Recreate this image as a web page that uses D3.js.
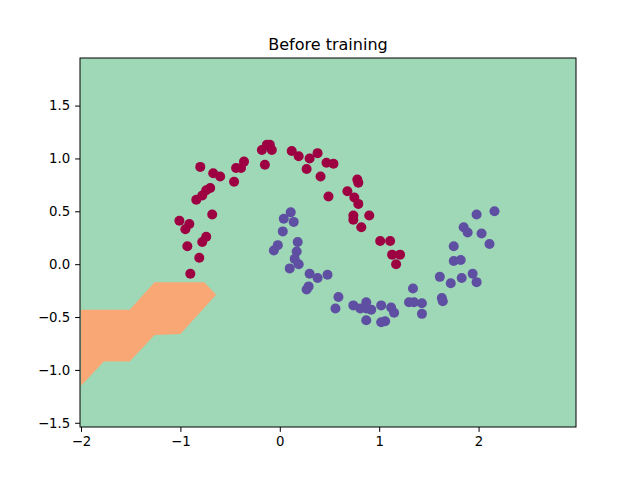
<!DOCTYPE html>
<html>
<head>
<meta charset="utf-8">
<script src="https://cdn.jsdelivr.net/npm/d3@7"></script>
<style>
  body { margin: 0; background: #fff; }
  text { font-family: "DejaVu Sans", sans-serif; }
</style>
</head>
<body>
<div id="chart"></div>
<script>
// class 0 points (red), data coords
let redX = [-0.80, -0.67, -0.60, -0.46, -0.44, -0.39, -0.36, -0.18, -0.13, -0.10, -0.08, -0.15,
    -0.84, -0.78, -0.74, -0.70, -0.68, -1.01, -0.91, -0.95, -0.93, -0.74, -0.78, -0.81, -0.90,
    0.12, 0.19, 0.30, 0.38, 0.47, 0.54, 0.27, 0.41, 0.78, 0.79, 0.49, 0.68, 0.75, 0.79, 0.90,
    0.74, 0.74, 0.82, 1.01, 1.11, 1.13, 1.21, 1.17];
let redY = [0.92, 0.86, 0.83, 0.78, 0.91, 0.91, 0.97, 1.08, 1.13, 1.13, 1.08, 0.94,
    0.61, 0.65, 0.70, 0.72, 0.47, 0.41, 0.38, 0.33, 0.17, 0.26, 0.21, 0.06, -0.09,
    1.07, 1.02, 1.00, 1.05, 0.96, 0.95, 0.90, 0.83, 0.80, 0.77, 0.64, 0.69, 0.63, 0.57, 0.46,
    0.46, 0.42, 0.35, 0.22, 0.22, 0.09, 0.09, 0.00];

// class 1 points (purple)
let blueX = [0.11, 0.04, 0.14, 0.03, -0.02, -0.06, 0.18, 0.17, 0.15, 0.19, 0.10, 0.30, 0.38, 0.48,
    0.29, 0.27, 0.59, 0.56, 0.74, 0.81, 0.87, 0.87, 0.92, 1.02, 1.12, 1.15, 0.87, 1.02, 1.06,
    1.34, 1.30, 1.35, 1.43, 1.43, 1.61, 1.72, 1.63, 1.64, 1.83, 1.94, 1.98, 1.75, 1.75, 1.82,
    1.85, 1.89, 1.98, 2.16, 2.03, 2.11];
let blueY = [0.49, 0.43, 0.40, 0.31, 0.18, 0.13, 0.21, 0.12, 0.05, 0.00, -0.04, -0.09, -0.13, -0.10,
    -0.21, -0.24, -0.31, -0.42, -0.39, -0.42, -0.36, -0.42, -0.43, -0.39, -0.41, -0.46, -0.53, -0.55, -0.54,
    -0.23, -0.36, -0.36, -0.37, -0.47, -0.12, -0.18, -0.32, -0.35, -0.13, -0.09, -0.17, 0.17, 0.03, 0.04,
    0.35, 0.30, 0.47, 0.50, 0.29, 0.19];

// decision region of class 0 (orange), polygon vertices in data coords
let regionX = [-2.0, -1.51, -1.26, -0.76, -0.64, -1.0, -1.26, -1.51, -1.77, -2.0];
let regionY = [-0.43, -0.43, -0.17, -0.17, -0.29, -0.66, -0.67, -0.92, -0.92, -1.15];

let xTicks = [-2, -1, 0, 1, 2];
let yTicks = [-1.5, -1.0, -0.5, 0.0, 0.5, 1.0, 1.5];

let chartTitle = "Before training";

let drawChart = function () {
    let width = 640;
    let height = 480;
    let margin = { top: 58, right: 64, bottom: 53, left: 80 };

    let svg = d3.select("#chart").append("svg")
        .attr("width", width)
        .attr("height", height);

    let x = d3.scaleLinear()
        .domain([-2.01, 2.98])
        .range([margin.left, width - margin.right]);
    let y = d3.scaleLinear()
        .domain([-1.54, 1.95])
        .range([height - margin.bottom, margin.top]);

    // background = class 1 region
    svg.append("rect")
        .attr("x", x.range()[0])
        .attr("y", y.range()[1])
        .attr("width", x.range()[1] - x.range()[0])
        .attr("height", y.range()[0] - y.range()[1])
        .attr("fill", "#9ed8b7");

    let region = regionX.map((d, i) => [x(d), y(regionY[i])]);
    svg.append("path")
        .attr("d", d3.line()(region) + "Z")
        .attr("fill", "#f9a775");

    let redPts = redX.map((d, i) => ({ x: d, y: redY[i] }));
    let bluePts = blueX.map((d, i) => ({ x: d, y: blueY[i] }));

    svg.append("g").selectAll("circle")
        .data(redPts)
        .enter()
        .append("circle")
        .attr("cx", d => x(d.x))
        .attr("cy", d => y(d.y))
        .attr("r", 5)
        .attr("fill", "#9e0142");

    svg.append("g").selectAll("circle")
        .data(bluePts)
        .enter()
        .append("circle")
        .attr("cx", d => x(d.x))
        .attr("cy", d => y(d.y))
        .attr("r", 5)
        .attr("fill", "#5e4fa2");

    // axes
    let xAxis = d3.axisBottom(x).tickValues(xTicks).tickSize(4.9).tickPadding(4.9)
        .tickFormat(d => d < 0 ? "\u2212" + Math.abs(d) : d);
    let yAxis = d3.axisLeft(y).tickValues(yTicks).tickSize(4.9).tickPadding(4.9)
        .tickFormat(d => (d < 0 ? "\u2212" : "") + Math.abs(d).toFixed(1));

    let gx = svg.append("g")
        .attr("transform", `translate(0,${height - margin.bottom})`)
        .call(xAxis);
    let gy = svg.append("g")
        .attr("transform", `translate(${margin.left},0)`)
        .call(yAxis);

    [gx, gy].forEach(g => {
        g.select(".domain").remove();
        g.selectAll("text").attr("font-size", "13.3px").attr("fill", "#000")
            .style("font-family", "DejaVu Sans, sans-serif");
        g.selectAll("line").attr("stroke", "#000").attr("stroke-width", 1);
    });

    // frame
    svg.append("rect")
        .attr("x", x.range()[0])
        .attr("y", y.range()[1])
        .attr("width", x.range()[1] - x.range()[0])
        .attr("height", y.range()[0] - y.range()[1])
        .attr("fill", "none")
        .attr("stroke", "#000")
        .attr("stroke-width", 1);

    svg.append("text")
        .attr("x", (x.range()[0] + x.range()[1]) / 2)
        .attr("y", margin.top - 8)
        .attr("text-anchor", "middle")
        .attr("font-size", "16px")
        .text(chartTitle);
};

window.onload = () => {
    drawChart();
};
</script>
</body>
</html>
